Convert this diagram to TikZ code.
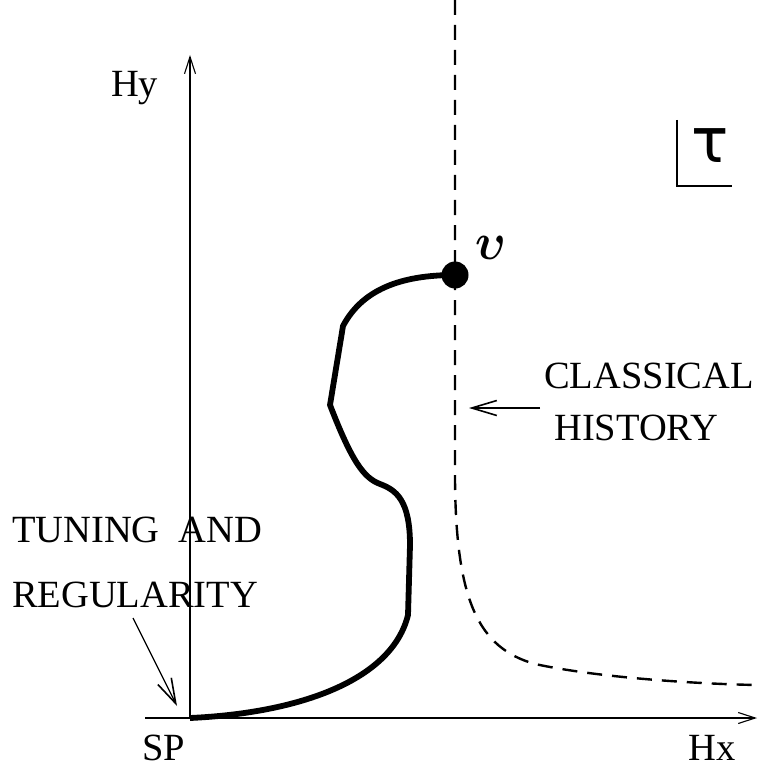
\documentclass[tikz,border=0pt]{standalone}
\usepackage{fontspec}
\setmainfont{Liberation Serif}
\newfontfamily\symfont{DejaVu Sans}
\usetikzlibrary{arrows.meta}
\tikzset{
  lbl/.style={inner sep=0pt, anchor=base west, font=\fontsize{38.5}{38.5}\selectfont},
  axis/.style={line width=1.3pt, -{Straight Barb[length=17pt,width=11pt,line width=1.1pt]}},
  pointer/.style={line width=1.2pt, -{Straight Barb[length=25pt,width=15pt,line width=1.6pt]}},
  history/.style={line width=2.4pt, dash pattern=on 15pt off 10pt},
  path/.style={line width=5.8pt, line join=round},
}
\begin{document}
\begin{tikzpicture}[x=1pt,y=-1pt]
\useasboundingbox (0,0) rectangle (761,767);
% coordinates
\coordinate (O) at (190,718);
\coordinate (xend) at (757,718);
\coordinate (xstart) at (145,718);
\coordinate (yend) at (190,55);
\coordinate (htail) at (540,408);
\coordinate (hhead) at (469,408);
\coordinate (ttail) at (133,618);
\coordinate (thead) at (177,706);
\coordinate (ctop) at (455,0);
\coordinate (cend) at (757,685);
% axes
\draw[axis] (xstart) -- (xend);
\draw[axis] (O) -- (yend);
% classical history (dashed)
\draw[history] (ctop) -- (455,480) .. controls (456,600) and (478,648) .. (535,664) .. controls (600,678) and (700,684) .. (cend);
% quantum path
\node[circle, fill=black, inner sep=0pt, minimum size=27pt] (v) at (455,275) {};
\draw[path] (O) .. controls (300,713) and (392,680) .. (408,615) -- (410,545) .. controls (410,500) and (396,490) .. (380,484) .. controls (364,478) and (352,462) .. (330,405) -- (343,326) .. controls (362,290) and (400,275) .. (v.center);
% labels
\node[lbl] (hy) at (111,97) {Hy};
\node[lbl] (hx) at (688,760) {Hx};
\node[lbl] (sp) at (142,760) {SP};
\node[lbl] (tun) at (12,542) {TUNING\ \ AND};
\node[lbl] (reg) at (12,607) {REGULARITY};
\node[lbl] (cla) at (544,388) {CLASSICAL};
\node[lbl] (his) at (554,440) {HISTORY};
\node[inner sep=0pt] (ups) at (491,248) {\scalebox{4.6}[5.2]{\boldmath$\upsilon$}};
\node[inner sep=0pt, font=\symfont\fontsize{62}{62}\selectfont] (tau) at (710,146) {τ};
% corner mark
\coordinate (c1) at (677,120);
\coordinate (c2) at (677,186);
\coordinate (c3) at (732,186);
\draw[line width=1.2pt] (c1) -- (c2) -- (c3);
% pointers
\draw[pointer] (htail) -- (hhead);
\draw[pointer] (ttail) -- (thead);
\end{tikzpicture}
\end{document}
